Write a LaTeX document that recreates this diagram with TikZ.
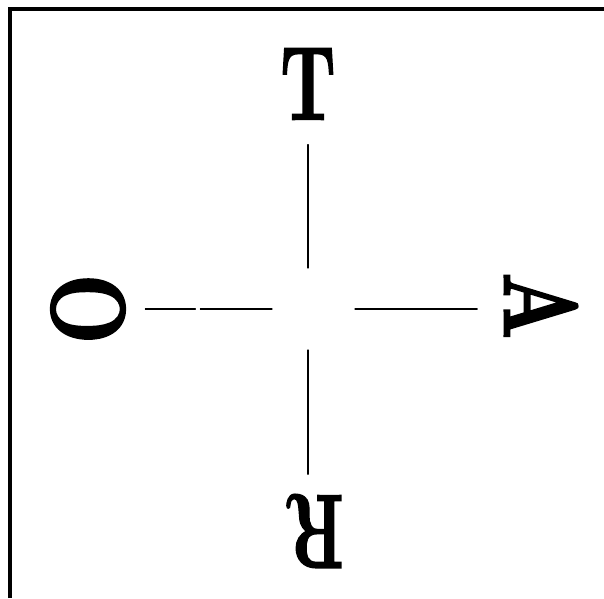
\documentclass[tikz,border=0pt]{standalone}
\usepackage{fontspec}
\usepackage{graphicx}
\newfontfamily\heavyfont{lmroman10-bold.otf}[FakeBold=1.8]
\usetikzlibrary{positioning}

\begin{document}
\begin{tikzpicture}[x=1pt, y=-1pt,
    ltr/.style={inner sep=0pt, font=\heavyfont\fontsize{105pt}{105pt}\selectfont},
    spoke/.style={line width=1.2pt, line cap=round},
    frame/.style={line width=3.2pt}
]
\useasboundingbox (0,0) rectangle (604,598);
\draw[frame] (10,598) |- (604,9);

\coordinate (c) at (308,309);
\node[ltr] (T) at (308,84) {\scalebox{0.66}[1]{T}};
\node[ltr, rotate=-90] (A) at (541,306) {\scalebox{0.74}[1]{A}};
\node[ltr, rotate=180] (R) at (315,531) {\scalebox{0.63}[1]{R}};
\node[ltr, rotate=90] (O) at (88,309) {\scalebox{0.78}[1]{O}};

\draw[spoke, shorten <=25pt, shorten >=41pt] (T.south) -- (c);
\draw[spoke, shorten <=20pt, shorten >=41pt] (R.south -| c) -- (c);
\draw[spoke, shorten <=27pt, shorten >=47pt] (A.south |- c) -- (c);
\draw[spoke, shorten <=20pt, shorten >=36pt, dash pattern=on 50pt off 5pt on 300pt] (O.south) -- (c);
\end{tikzpicture}
\end{document}
